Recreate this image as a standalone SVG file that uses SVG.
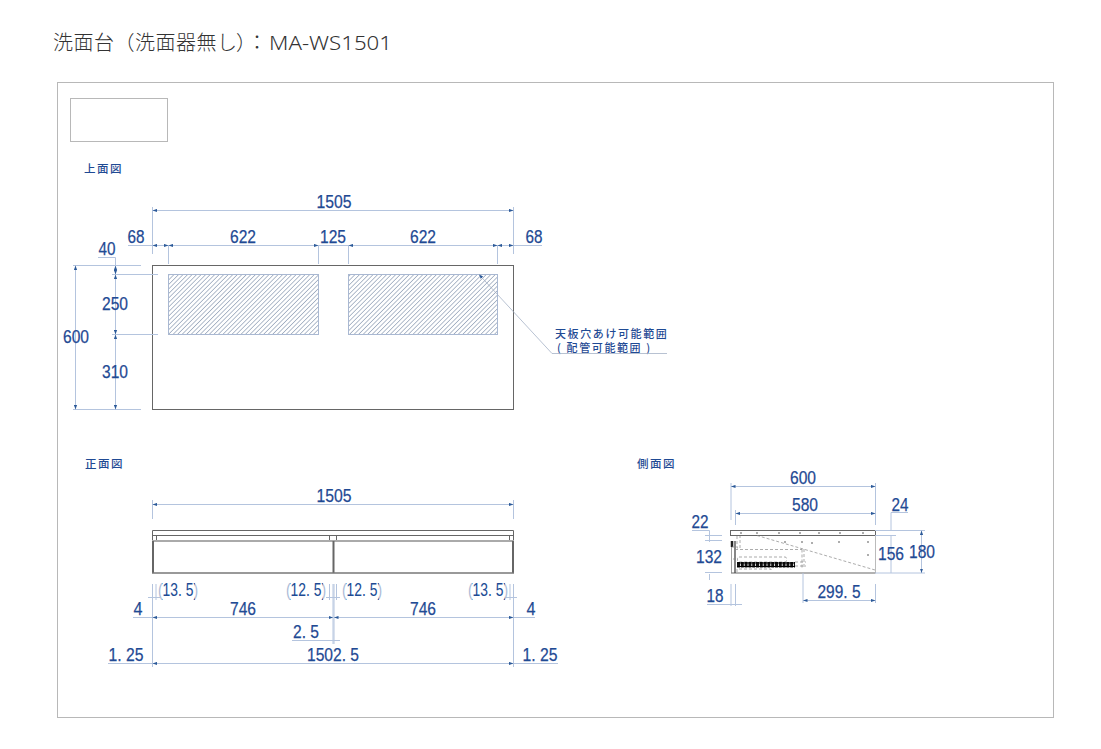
<svg xmlns="http://www.w3.org/2000/svg" width="1101" height="749" viewBox="0 0 1101 749">
<style>
.title{font-family:"Noto Sans CJK JP","Liberation Sans",sans-serif;font-size:20px;font-weight:300;fill:#333}
.cap{font-family:"Noto Sans CJK JP",sans-serif;font-size:11.5px;font-weight:500;fill:#1f4a94;letter-spacing:1.5px}
.note{font-family:"Noto Sans CJK JP",sans-serif;font-size:11px;font-weight:500;fill:#1f4a94;letter-spacing:1.6px}
.n{font-family:"Liberation Sans",sans-serif;font-size:19px;fill:#1f4a94;stroke:#1f4a94;stroke-width:.25;text-anchor:middle}
.pn{fill:url(#pg);stroke:none}
.d{stroke:#b4c4de;stroke-width:1;fill:none}
.da{stroke:#b4c4de;stroke-width:1;fill:none;marker-start:url(#ar);marker-end:url(#ar)}
.s{stroke:#666;stroke-width:1;fill:none}
.t{stroke:#666;stroke-width:2;fill:none}
.f{stroke:#b8b8b8;stroke-width:1;fill:#fff}
.h{fill:url(#hatch);stroke:#a9b8d2;stroke-width:1}
.ds{stroke:#888;stroke-width:.7;stroke-dasharray:3 2;fill:none}
</style>
<defs>
<linearGradient id="pg" x1="0" y1="0" x2="1" y2="0">
<stop offset="0" stop-color="#a9bad6"/><stop offset=".1" stop-color="#a9bad6"/><stop offset=".1" stop-color="#1f4a94"/><stop offset=".92" stop-color="#1f4a94"/><stop offset=".92" stop-color="#a9bad6"/><stop offset="1" stop-color="#a9bad6"/>
</linearGradient>
<pattern id="hatch" width="3.2" height="3.2" patternUnits="userSpaceOnUse" patternTransform="rotate(45)">
<rect width="3.2" height="3.2" fill="#fff"/><line x1="0" y1="0" x2="0" y2="3.2" stroke="#9aa8bc" stroke-width="1.5"/>
</pattern>
<marker id="ar" markerUnits="userSpaceOnUse" markerWidth="5" markerHeight="4" refX="4.5" refY="2" orient="auto-start-reverse">
<path d="M0 0.4L4.5 2L0 3.6Z" fill="#2c5a99"/>
</marker>
</defs>
<rect width="1101" height="749" fill="#fff"/>
<text id="title" class="title" y="50" x="53 73.5 94 114.5 135 155.5 176 196.5 217 236 247">洗面台（洗面器無し）：<tspan x="269" y="50" font-family="Noto Sans" font-weight="300" font-size="20" textLength="123" lengthAdjust="spacingAndGlyphs">MA-WS1501</tspan></text>
<rect id="frame" class="f" x="57.5" y="82.5" width="996" height="635"/>
<rect id="blank-box" class="f" x="70.5" y="98.5" width="97" height="43"/>

<g id="plan-view">
<text class="cap" x="84" y="173">上面図</text>
<rect class="s" x="152.5" y="265.5" width="361" height="144"/>
<rect class="h" x="168.5" y="274.5" width="150" height="60"/>
<rect class="h" x="348.5" y="274.5" width="149" height="60"/>
<text class="note" x="555" y="338">天板穴あけ可能範囲</text>
<text class="note" x="557" y="352">( 配管可能範囲 )</text>
</g>

<g id="front-view">
<text class="cap" x="85" y="468">正面図</text>
<path class="s" d="M152.5 530.5H513.5V541M152.5 530.5V541M152.5 535.5H513.5M156.5 535.5V541M329.5 535.5V541M336.5 535.5V541M509.5 535.5V541"/>
<path d="M152 541H514" stroke="#aaa" stroke-width="2" fill="none"/>
<path class="t" d="M153 541V573M333.5 541V573M513 541V573"/>
<path d="M152 573H514" stroke="#777" stroke-width="1.3" fill="none"/>
</g>

<g id="side-view">
<text class="cap" x="637" y="468">側面図</text>
<rect class="s" x="730.5" y="530.5" width="145" height="5"/>
<path d="M875.5 535.5V573" stroke="#bbb" fill="none"/>
<path d="M731 573H875.5" stroke="#666" stroke-width="1.2" fill="none"/>
<path d="M735 541V573" stroke="#444" stroke-width="1.3" fill="none"/>
<path d="M732 541V547" stroke="#222" stroke-width="2.5" fill="none"/>
<path d="M732 547H735M731.5 547V573" stroke="#888" stroke-width=".8" fill="none"/>
<path class="ds" d="M757 535.5L875 570M735 549.5H802M802 549.5V568M804 549V568M737 536V548H740V536"/>
<rect class="ds" x="737.5" y="557" width="49" height="5" rx="1.5"/>
<path class="ds" d="M733 559H737M795 562H806M795 566H806M737 572V569H771V572"/>
<path d="M737 564.8H795" stroke="#111" stroke-width="5.4" stroke-dasharray="3 .8" fill="none"/>
<path d="M737 563H795M737 566.5H795" stroke="#000" stroke-width="1.2" fill="none"/>
<path d="M741 532V534M757 532V534M779 532V534M800 532V534M819 532V534M840 532V534M863 532V534M785 541V543M802 541V543M812 542V544M839 541V543M868 541V543M868 554V556" stroke="#777" stroke-width="1.2" fill="none"/>
</g>

<g id="connectors">
<path class="d" d="M152.5 207V254M513.5 207V254M168.5 245V264M318.5 245V264M348.5 245V264M497.5 245V264M128 245.5H157M73 265.5H141M73 409.5H141M112 274.5H158M112 334.5H158M98 257.5H115.5M513.5 245.5H542"/>
<line class="da" x1="152.5" y1="210.5" x2="513.5" y2="210.5"/>
<line class="da" x1="168.5" y1="245.5" x2="152.5" y2="245.5"/>
<line class="da" x1="168.5" y1="245.5" x2="318.5" y2="245.5"/>
<line class="d" x1="318.5" y1="245.5" x2="348.5" y2="245.5"/>
<line class="da" x1="348.5" y1="245.5" x2="497.5" y2="245.5"/>
<line class="da" x1="497.5" y1="245.5" x2="513.5" y2="245.5"/>
<line class="da" x1="75.5" y1="265.5" x2="75.5" y2="409.5"/>
<line class="da" x1="115.5" y1="265.5" x2="115.5" y2="274.5"/>
<line class="da" x1="115.5" y1="274.5" x2="115.5" y2="334.5"/>
<line class="da" x1="115.5" y1="334.5" x2="115.5" y2="409.5"/>
<path class="d" d="M115.5 257.5V265.5"/>
<path d="M479 274.5L552 353.5H667" fill="none" stroke="#a6b2c6" stroke-width=".8" marker-start="url(#ar)"/>
<path class="d" d="M152.5 500V519M513.5 500V519"/>
<line class="da" x1="152.5" y1="504.5" x2="513.5" y2="504.5"/>
<path class="d" d="M152.5 584V667M513.5 584V667M156 584V600M329.5 584V600M336.5 584V600M510 584V600M333 584V644M334 584V644M133 617.5H153M513.5 617.5H535M292 640.5H333M108 663.5H152M513.5 663.5H558M148 597.5H160M326 597.5H340M505 597.5H517"/>
<line class="da" x1="152.5" y1="617.5" x2="333" y2="617.5"/>
<line class="da" x1="334" y1="617.5" x2="513.5" y2="617.5"/>
<line class="da" x1="152.5" y1="663.5" x2="513.5" y2="663.5"/>
<path class="d" d="M333 640.5H340"/>
<path class="d" d="M731 483V520M875.5 483V525M735.5 510V525M875 530.5H925M875 535.5H896M875 573H925M908 512.5H891V530.5M692 530.5H709.5V542M705 535.5H722M705 540.5H722M705 572.5H722M709.5 574V580M731 584V606M735.5 584V606M707 604.5H742M803 573V603M875.5 584V603M891 535.5V573"/>
<line class="da" x1="731" y1="486.5" x2="875.5" y2="486.5"/>
<line class="da" x1="735.5" y1="513.5" x2="875.5" y2="513.5"/>
<line class="da" x1="921.5" y1="530.5" x2="921.5" y2="573"/>
<line class="da" x1="803" y1="600.5" x2="875.5" y2="600.5"/>
</g>

<g id="dimension-labels">
<text class="n" x="334" y="208" textLength="35" lengthAdjust="spacingAndGlyphs">1505</text>
<text class="n" x="136" y="243" textLength="17" lengthAdjust="spacingAndGlyphs">68</text>
<text class="n" x="243" y="243" textLength="26" lengthAdjust="spacingAndGlyphs">622</text>
<text class="n" x="333" y="243" textLength="26" lengthAdjust="spacingAndGlyphs">125</text>
<text class="n" x="423" y="243" textLength="26" lengthAdjust="spacingAndGlyphs">622</text>
<text class="n" x="534" y="243" textLength="17" lengthAdjust="spacingAndGlyphs">68</text>
<text class="n" x="107" y="255" textLength="17" lengthAdjust="spacingAndGlyphs">40</text>
<text class="n" x="115" y="310" textLength="26" lengthAdjust="spacingAndGlyphs">250</text>
<text class="n" x="76" y="343" textLength="26" lengthAdjust="spacingAndGlyphs">600</text>
<text class="n" x="115" y="378" textLength="26" lengthAdjust="spacingAndGlyphs">310</text>
<text class="n" x="334" y="502" textLength="35" lengthAdjust="spacingAndGlyphs">1505</text>
<text class="n pn" x="178" y="596" textLength="40" lengthAdjust="spacingAndGlyphs">(13. 5)</text>
<text class="n pn" x="306" y="596" textLength="40" lengthAdjust="spacingAndGlyphs">(12. 5)</text>
<text class="n pn" x="362" y="596" textLength="40" lengthAdjust="spacingAndGlyphs">(12. 5)</text>
<text class="n pn" x="488" y="596" textLength="40" lengthAdjust="spacingAndGlyphs">(13. 5)</text>
<text class="n" x="138" y="615" textLength="9" lengthAdjust="spacingAndGlyphs">4</text>
<text class="n" x="243" y="615" textLength="26" lengthAdjust="spacingAndGlyphs">746</text>
<text class="n" x="423" y="615" textLength="26" lengthAdjust="spacingAndGlyphs">746</text>
<text class="n" x="531" y="615" textLength="9" lengthAdjust="spacingAndGlyphs">4</text>
<text class="n" x="306" y="638" textLength="26" lengthAdjust="spacingAndGlyphs">2. 5</text>
<text class="n" x="126" y="661" textLength="35" lengthAdjust="spacingAndGlyphs">1. 25</text>
<text class="n" x="333" y="661" textLength="52" lengthAdjust="spacingAndGlyphs">1502. 5</text>
<text class="n" x="540" y="661" textLength="35" lengthAdjust="spacingAndGlyphs">1. 25</text>
<text class="n" x="803" y="484" textLength="26" lengthAdjust="spacingAndGlyphs">600</text>
<text class="n" x="805" y="511" textLength="26" lengthAdjust="spacingAndGlyphs">580</text>
<text class="n" x="900" y="511" textLength="17" lengthAdjust="spacingAndGlyphs">24</text>
<text class="n" x="700" y="528" textLength="17" lengthAdjust="spacingAndGlyphs">22</text>
<text class="n" x="709" y="563" textLength="26" lengthAdjust="spacingAndGlyphs">132</text>
<text class="n" x="891" y="560" textLength="26" lengthAdjust="spacingAndGlyphs">156</text>
<text class="n" x="922" y="558" textLength="26" lengthAdjust="spacingAndGlyphs">180</text>
<text class="n" x="715" y="602" textLength="17" lengthAdjust="spacingAndGlyphs">18</text>
<text class="n" x="839" y="598" textLength="43" lengthAdjust="spacingAndGlyphs">299. 5</text>
</g>
</svg>
